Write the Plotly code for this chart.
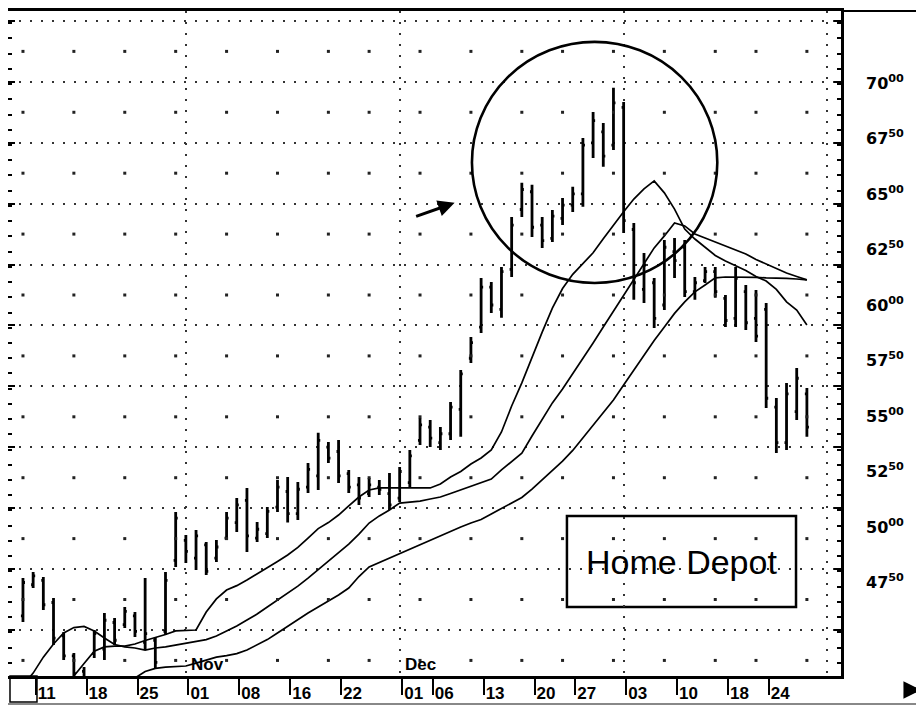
import plotly.graph_objects as go
import pandas as pd

# trading calendar (Oct 1999 - Jan 2000), exchange holidays removed
holidays = ['1999-11-25', '1999-12-24', '2000-01-17']
calendar = [d for d in pd.bdate_range('1999-10-08', '2000-02-01')
            if d.strftime('%Y-%m-%d') not in holidays]
n_bars = 78
dates = calendar[:n_bars]
pos = {d.strftime('%Y-%m-%d'): i for i, d in enumerate(calendar)}

# daily bars
high = [47.70, 47.97, 47.75, 46.80, 45.27, 44.33, 43.69, 45.36, 46.13, 45.90,
        46.40, 46.17, 47.70, 45.05, 47.97, 50.68, 49.64, 49.87, 49.32, 49.41,
        50.68, 51.31, 51.76, 50.23, 50.90, 52.12, 52.25, 52.03, 52.88, 54.24,
        53.83, 53.92, 52.57, 52.25, 52.21, 52.12, 52.43, 52.70, 53.47, 54.91,
        54.82, 54.50, 55.63, 57.07, 58.56, 61.22, 61.04, 61.71, 63.96, 65.50,
        65.41, 63.96, 64.28, 64.82, 65.32, 67.52, 68.69, 68.20, 69.78, 69.14,
        63.69, 62.34, 61.22, 62.93, 63.02, 62.93, 61.26, 61.71, 61.71, 60.45,
        61.71, 60.90, 60.68, 60.09, 55.81, 56.49, 57.16, 56.26]
low = [45.72, 47.25, 46.26, 44.69, 44.01, 43.00, 42.90, 44.10, 44.01, 44.69,
       45.45, 45.05, 44.46, 43.65, 45.14, 48.20, 48.38, 48.06, 47.84, 48.42,
       49.41, 49.77, 48.87, 49.32, 49.50, 50.68, 50.20, 50.32, 51.53, 51.67,
       52.88, 51.98, 51.53, 50.99, 51.35, 51.44, 50.77, 51.13, 51.76, 53.69,
       53.60, 53.47, 53.92, 54.06, 57.39, 58.74, 59.64, 59.42, 61.26, 63.96,
       63.06, 62.57, 62.84, 63.60, 64.19, 64.42, 66.62, 66.22, 66.98, 63.24,
       60.23, 60.09, 58.96, 59.77, 61.22, 60.36, 60.23, 60.99, 60.32, 59.01,
       59.01, 58.87, 58.33, 55.36, 53.33, 53.47, 54.82, 54.06]
open_ = [46.0, 47.4, 47.6, 46.6, 45.1, 44.2, 43.5, 44.3, 44.5, 45.7,
         45.6, 46.0, 44.8, 44.9, 45.3, 48.5, 49.4, 48.6, 49.2, 48.6,
         49.5, 50.2, 51.2, 49.5, 49.7, 50.9, 51.6, 50.6, 51.8, 52.3,
         53.6, 53.4, 52.4, 51.9, 51.5, 51.8, 51.5, 51.3, 52.0, 53.9,
         54.5, 53.8, 54.2, 55.3, 57.6, 59.0, 60.8, 59.8, 61.6, 64.3,
         65.1, 63.6, 63.0, 63.9, 64.5, 65.0, 67.3, 67.8, 67.2, 68.9,
         63.4, 60.7, 61.0, 60.0, 62.4, 62.6, 60.6, 61.1, 61.5, 60.3,
         59.4, 60.6, 59.4, 59.8, 55.4, 53.8, 55.2, 56.0]
close = [47.5, 47.8, 46.5, 45.0, 44.2, 43.4, 43.2, 45.2, 45.8, 44.9,
         46.2, 45.3, 45.2, 43.9, 47.6, 50.4, 48.9, 49.6, 48.0, 49.1,
         50.4, 51.0, 49.6, 49.9, 50.7, 51.8, 50.6, 51.7, 52.6, 53.9,
         53.1, 52.3, 51.8, 51.3, 51.9, 51.7, 51.0, 52.5, 53.2, 54.6,
         54.0, 54.2, 55.4, 56.9, 58.3, 60.8, 60.0, 61.5, 63.6, 65.2,
         63.5, 62.9, 64.0, 64.5, 65.0, 67.2, 68.3, 66.7, 69.1, 63.8,
         61.0, 61.8, 59.4, 62.6, 62.0, 60.6, 61.0, 61.5, 60.6, 59.3,
         61.2, 59.2, 58.6, 55.8, 53.8, 56.0, 56.7, 54.5]

# the three moving averages
ma_fast = [None, None, None, None,
           42.43, 43.29, 43.85, 44.41, 44.60, 44.64, 44.64, 44.73, 44.89, 45.02,
           45.16, 45.32, 45.34, 45.36, 46.17, 46.76, 47.16, 47.36, 47.61, 47.88,
           48.15, 48.45, 48.74, 49.08, 49.50, 49.93, 50.20, 50.54, 50.95, 51.35,
           51.67, 51.76, 51.76, 51.76, 51.76, 51.76, 51.76, 51.94, 52.25, 52.50,
           52.84, 53.11, 53.47, 54.28, 55.45, 56.49, 57.66, 58.78, 59.86, 60.74,
           61.38, 61.85, 62.35, 62.98, 63.61, 64.20, 64.77, 65.23, 65.59, 65.05,
           64.32, 63.42, 62.97, 62.61, 62.23, 61.98, 61.78, 61.55, 61.28, 61.08,
           60.70, 60.14, 59.77, 59.10]
ma_mid = [42.88, 43.42, 44.14, 44.73, 45.23, 45.47, 45.52, 45.32, 45.00, 44.71,
          44.60, 44.55, 44.46, 44.55, 44.60, 44.69, 44.75, 44.84, 44.93, 45.09,
          45.32, 45.54, 45.81, 46.08, 46.40, 46.71, 47.01, 47.34, 47.70, 48.09,
          48.47, 48.85, 49.23, 49.68, 50.18, 50.50, 50.77, 51.08, 51.13, 51.17,
          51.26, 51.35, 51.51, 51.67, 51.83, 51.98, 52.16, 52.57, 52.95, 53.33,
          54.10, 54.84, 55.59, 56.22, 56.89, 57.57, 58.29, 59.01, 59.71, 60.45,
          61.13, 61.85, 62.57, 63.11, 63.69, 63.56, 63.20, 63.02, 62.84, 62.66,
          62.50, 62.30, 62.05, 61.85, 61.62, 61.44, 61.28, 61.13]
ma_slow = [None, None, None, None, None, None, None, None, None, None,
           42.97, 43.20, 43.49, 43.63, 43.69, 43.72, 43.74, 43.87, 44.01, 44.14,
           44.21, 44.30, 44.46, 44.71, 44.93, 45.23, 45.54, 45.83, 46.13, 46.40,
           46.67, 46.94, 47.25, 47.77, 48.20, 48.40, 48.60, 48.81, 49.01, 49.19,
           49.39, 49.59, 49.82, 50.00, 50.18, 50.34, 50.59, 50.83, 51.08, 51.33,
           51.71, 52.12, 52.52, 52.97, 53.45, 54.01, 54.60, 55.16, 55.72, 56.40,
           57.07, 57.77, 58.40, 59.01, 59.62, 60.14, 60.59, 60.90, 61.22, 61.26,
           61.26, 61.26, 61.24, 61.22, 61.22, 61.20, 61.17, 61.13]

tick_dates = ['1999-10-11', '1999-10-18', '1999-10-25', '1999-11-01', '1999-11-08',
              '1999-11-15', '1999-11-22', '1999-12-01', '1999-12-06', '1999-12-13',
              '1999-12-20', '1999-12-27', '2000-01-03', '2000-01-10', '2000-01-18',
              '2000-01-24']
tick_text = ['11', '18', '25', '01', '08', '16', '22', '01', '06', '13',
             '20', '27', '03', '10', '18', '24']
month_dates = ['1999-11-01', '1999-12-01', '2000-01-03', '2000-02-01']
month_names = ['Nov', 'Dec']
price_ticks = [47.5, 50.0, 52.5, 55.0, 57.5, 60.0, 62.5, 65.0, 67.5, 70.0]

x = list(range(n_bars))
x_range = [-1.47, 80.35]
y_range = [43.29, 73.24]
grid0, grid_step = 70.05, 2.743

price_text = [f'{int(v)}<sup>{int(round((v % 1) * 100)):02d}</sup>' for v in price_ticks]
tick_pos = [pos[d] + 0.25 for d in tick_dates]
month_pos = [pos[d] for d in month_dates]

# weekly dot grid between the dotted lines (last trading day of each week)
week_end = [i for i in range(len(calendar) - 1)
            if calendar[i + 1].weekday() < calendar[i].weekday()]
mid_rows = []
v = grid0 + grid_step * 1.5
while v > y_range[0]:
    mid_rows.append(v)
    v -= grid_step
dot_x = [i for r in mid_rows for i in week_end]
dot_y = [r for r in mid_rows for i in week_end]

fig = go.Figure()

fig.add_trace(go.Scatter(x=dot_x, y=dot_y, mode='markers', xaxis='x2', yaxis='y2',
                         marker=dict(symbol='square', size=3, color='#222'),
                         hoverinfo='skip', showlegend=False))

for ma in [ma_slow, ma_mid, ma_fast]:
    fig.add_trace(go.Scatter(x=x, y=ma, mode='lines', line=dict(color='black', width=1.7),
                             hoverinfo='skip', showlegend=False))

fig.add_trace(go.Ohlc(x=x, open=open_, high=high, low=low, close=close,
                      increasing=dict(line=dict(color='black', width=2.8)),
                      decreasing=dict(line=dict(color='black', width=2.8)),
                      tickwidth=0.2, showlegend=False))

# the page body adds an 8px offset, so the figure is 8px smaller than the window
fig.update_layout(
    width=916, height=699,
    margin=dict(l=0, r=83, t=3, b=31),
    paper_bgcolor='white', plot_bgcolor='white',
    font=dict(family='Liberation Sans, Arial, sans-serif', color='black'),
    xaxis=dict(range=x_range, tickmode='array', tickvals=tick_pos, ticktext=tick_text,
               ticks='outside', ticklen=16, tickwidth=1.5, tickcolor='black',
               ticklabelposition='outside right',
               tickfont=dict(size=17, weight='bold', color='black'),
               showgrid=False, zeroline=False, showline=True, linewidth=2.5,
               linecolor='black', mirror=True, rangeslider=dict(visible=False)),
    xaxis2=dict(range=x_range, overlaying='x', tickmode='array', tickvals=month_pos,
                showticklabels=False, ticks='', showgrid=True, gridcolor='#333',
                griddash='2px,9px', gridwidth=1.5, zeroline=False, showline=False),
    yaxis=dict(range=y_range, tick0=grid0, dtick=grid_step, showticklabels=False,
               showgrid=True, gridcolor='#333', griddash='2px,9px', gridwidth=1.5,
               ticks='inside', ticklen=7, tickwidth=1.5, tickcolor='black',
               minor=dict(dtick=grid_step / 4, ticks='inside', ticklen=4,
                          tickcolor='black', showgrid=False),
               zeroline=False, showline=True, linewidth=2.5, linecolor='black',
               mirror='allticks'),
    yaxis2=dict(range=y_range, overlaying='y', side='right', tickmode='array',
                tickvals=price_ticks, ticktext=price_text, ticks='',
                ticklabelstandoff=24, showgrid=False, zeroline=False, showline=False,
                tickfont=dict(size=16, weight='bold', color='black',
                              family='DejaVu Sans, sans-serif')),
)

# month names sitting on the bottom axis
for name, d in zip(month_names, month_dates[:2]):
    fig.add_annotation(x=pos[d] + 0.3, y=y_range[0], xref='x', yref='y', text=name,
                       showarrow=False, xanchor='left', yanchor='bottom',
                       font=dict(size=17, weight='bold', color='black'))

# hand-drawn circle and arrow
fig.add_shape(type='circle', xref='x', yref='y', x0=44.1, x1=68.2, y0=60.99, y1=71.85,
              line=dict(color='black', width=2.6))
fig.add_annotation(x=42.4, y=64.6, xref='x', yref='y', ax=-40, ay=14, text='',
                   showarrow=True, arrowhead=2, arrowsize=1.1, arrowwidth=3,
                   arrowcolor='black')

# title box
fig.add_shape(type='rect', xref='paper', yref='paper', x0=0.671, x1=0.946,
              y0=0.1038, y1=0.2406, line=dict(color='black', width=2.5),
              fillcolor='white', layer='below')
fig.add_annotation(x=0.8085, y=0.172, xref='paper', yref='paper', text='Home Depot',
                   showarrow=False, xanchor='center', yanchor='middle',
                   font=dict(size=34, color='black'))

# frame bits outside the plot
fig.add_shape(type='rect', xref='paper', yref='paper', x0=0.0024, x1=0.0348,
              y0=-0.039, y1=0, line=dict(color='black', width=1.5))
fig.add_shape(type='line', xref='paper', yref='paper', x0=1, x1=1.0996, y0=1, y1=1,
              line=dict(color='black', width=2))
fig.add_shape(type='line', xref='paper', yref='paper', x0=0, x1=1.0996,
              y0=-0.042, y1=-0.042, line=dict(color='#888', width=2))
# small scroll arrow in the bottom right corner
fig.add_annotation(x=1.096, y=-0.021, xref='paper', yref='paper', ax=-18, ay=0,
                   text='', showarrow=True, arrowhead=2, arrowsize=0.7, arrowwidth=5,
                   arrowcolor='black')

fig.write_html("out.html")
